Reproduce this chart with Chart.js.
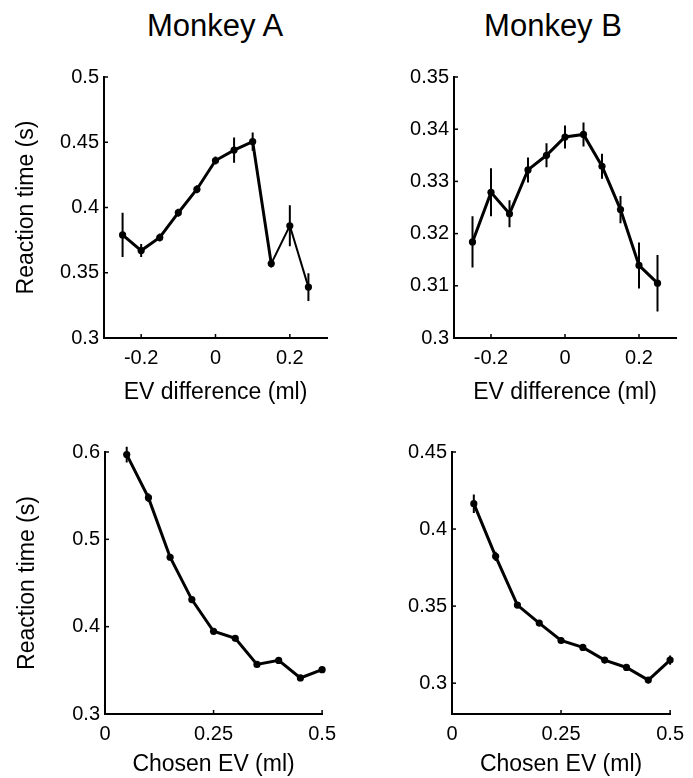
<!DOCTYPE html>
<html>
<head>
<meta charset="utf-8">
<script src="https://cdn.jsdelivr.net/npm/chart.js@4.4.1/dist/chart.umd.min.js"></script>
<style>
  body { margin: 0; background: #fff; width: 693px; height: 778px; position: relative; overflow: hidden;
         font-family: "Liberation Sans", Arial, Helvetica, sans-serif; }
  .title { position: absolute; top: 8px; font-size: 31px; line-height: 36px; color: #000;
           transform: translateX(-50%); white-space: nowrap; }
  canvas { position: absolute; }
</style>
</head>
<body>
<div class="title" style="left:215px;">Monkey A</div>
<div class="title" style="left:553px;">Monkey B</div>
<canvas id="tl"></canvas>
<canvas id="tr"></canvas>
<canvas id="bl"></canvas>
<canvas id="br"></canvas>
<script>
// ── Data ──────────────────────────────────────────────────
const EV_DIFF   = [-0.25, -0.2, -0.15, -0.1, -0.05, 0, 0.05, 0.1, 0.15, 0.2, 0.25];
const CHOSEN_EV = [0.05, 0.1, 0.15, 0.2, 0.25, 0.3, 0.35, 0.4, 0.45, 0.5];

const rtDiffA  = [0.379, 0.367, 0.377, 0.396, 0.414, 0.436, 0.444, 0.4505, 0.357, 0.386, 0.339];
const semDiffA = [0.017, 0.005, 0.003, 0.003, 0.003, 0.003, 0.0097, 0.007, 0.003, 0.0157, 0.0106];
const rtDiffB  = [0.3184, 0.3279, 0.3238, 0.3322, 0.3350, 0.3385, 0.3390, 0.3329, 0.3246, 0.3139, 0.3105];
const semDiffB = [0.0049, 0.0046, 0.0026, 0.0024, 0.0023, 0.0022, 0.0023, 0.0024, 0.0026, 0.0044, 0.0054];

const rtChosenA  = [0.597, 0.5477, 0.4795, 0.431, 0.3947, 0.3867, 0.3568, 0.3614, 0.3413, 0.3508];
const semChosenA = [0.009, 0.005, 0.003, 0.003, 0.003, 0.003, 0.003, 0.003, 0.003, 0.003];
const rtChosenB  = [0.4165, 0.3823, 0.3507, 0.339, 0.3277, 0.3232, 0.315, 0.3102, 0.302, 0.315];
const semChosenB = [0.006, 0.003, 0.002, 0.002, 0.002, 0.002, 0.002, 0.002, 0.002, 0.003];

// ── Tick values ───────────────────────────────────────────
const X_TICKS_DIFF   = [-0.2, 0, 0.2];
const X_TICKS_CHOSEN = [0, 0.25, 0.5];
const Y_TICKS_DIFF_A   = [0.3, 0.35, 0.4, 0.45, 0.5];
const Y_TICKS_DIFF_B   = [0.3, 0.31, 0.32, 0.33, 0.34, 0.35];
const Y_TICKS_CHOSEN_A = [0.3, 0.4, 0.5, 0.6];
const Y_TICKS_CHOSEN_B = [0.3, 0.35, 0.4, 0.45];

// ── Defaults ──────────────────────────────────────────────
Chart.defaults.font.family = '"Liberation Sans", Arial, Helvetica, sans-serif';
Chart.defaults.color = '#000';

const fmt = v => String(+v.toFixed(3));

// small ticks pointing into the plot, MATLAB style
const innerTicks = {
  id: 'innerTicks',
  afterDraw(chart) {
    const { ctx, chartArea: a, scales: { x, y } } = chart;
    ctx.save();
    ctx.strokeStyle = '#000';
    ctx.lineWidth = 1.5;
    x.ticks.forEach(t => {
      const px = x.getPixelForValue(t.value);
      ctx.beginPath(); ctx.moveTo(px, a.bottom); ctx.lineTo(px, a.bottom - 4); ctx.stroke();
    });
    y.ticks.forEach(t => {
      const py = y.getPixelForValue(t.value);
      ctx.beginPath(); ctx.moveTo(a.left, py); ctx.lineTo(a.left + 4, py); ctx.stroke();
    });
    ctx.restore();
  }
};

function errorBars(xs, ys, es) {
  const out = [];
  xs.forEach((x, i) => {
    out.push({ x, y: ys[i] - es[i] }, { x, y: ys[i] + es[i] }, { x, y: null });
  });
  return out;
}

function makePanel(id, box, opts) {
  const cv = document.getElementById(id);
  const L = 100, T = 15, R = 15, B = opts.bottom;
  cv.width  = box.w + L + R;
  cv.height = box.h + T + B;
  cv.style.left = (box.x - L) + 'px';
  cv.style.top  = (box.y - T) + 'px';

  new Chart(cv, {
    type: 'scatter',
    data: {
      datasets: [
        {
          data: errorBars(opts.xs, opts.ys, opts.es),
          showLine: true,
          spanGaps: false,
          borderColor: '#000',
          borderWidth: 2,
          pointRadius: 0,
          clip: false,
        },
        {
          data: opts.xs.map((x, i) => ({ x, y: opts.ys[i] })),
          showLine: true,
          borderColor: '#000',
          backgroundColor: '#000',
          borderWidth: 3,
          segment: opts.segment,
          pointRadius: 3.6,
          pointBackgroundColor: '#000',
          pointBorderWidth: 0,
          clip: false,
        },
      ],
    },
    options: {
      responsive: false,
      animation: false,
      events: [],
      layout: { padding: { left: 0, top: T, right: R, bottom: 0 } },
      plugins: { legend: { display: false }, tooltip: { enabled: false } },
      scales: {
        x: {
          type: 'linear',
          min: opts.xMin, max: opts.xMax,
          afterBuildTicks: s => { s.ticks = opts.xTicks.map(v => ({ value: v })); },
          afterFit: s => { s.height = B; },
          grid: { display: false, drawTicks: false },
          border: { display: true, color: '#000', width: 2 },
          ticks: { font: { size: 20 }, padding: 8, maxRotation: 0, callback: v => fmt(v) },
          title: { display: true, text: opts.xTitle, font: { size: 23 },
                   padding: { top: 0, bottom: opts.xTitlePad } },
        },
        y: {
          type: 'linear',
          min: opts.yMin, max: opts.yMax,
          afterBuildTicks: s => { s.ticks = opts.yTicks.map(v => ({ value: v })); },
          afterFit: s => { s.width = L; },
          grid: { display: false, drawTicks: false },
          border: { display: true, color: '#000', width: 2 },
          ticks: { font: { size: 20 }, padding: 5, callback: v => fmt(v) },
          title: { display: !!opts.yTitle, text: opts.yTitle || '', font: { size: 23 },
                   padding: { top: 9, bottom: 0 } },
        },
      },
    },
    plugins: [innerTicks],
  });
}

// ── Panels ────────────────────────────────────────────────
makePanel('tl', { x: 104, y: 75, w: 223, h: 263 }, {
  xs: EV_DIFF, ys: rtDiffA, es: semDiffA,
  xMin: -0.3, xMax: 0.3, yMin: 0.3, yMax: 0.5,
  xTicks: X_TICKS_DIFF, yTicks: Y_TICKS_DIFF_A,
  xTitle: 'EV difference (ml)', yTitle: 'Reaction time (s)',
  bottom: 75, xTitlePad: 7,
  segment: { borderWidth: ctx => ctx.p0DataIndex >= 8 ? 2 : 3 },
});

makePanel('tr', { x: 454, y: 75, w: 222, h: 263 }, {
  xs: EV_DIFF, ys: rtDiffB, es: semDiffB,
  xMin: -0.3, xMax: 0.3, yMin: 0.3, yMax: 0.35,
  xTicks: X_TICKS_DIFF, yTicks: Y_TICKS_DIFF_B,
  xTitle: 'EV difference (ml)', yTitle: null,
  bottom: 75, xTitlePad: 7,
});

makePanel('bl', { x: 105, y: 450, w: 224, h: 264 }, {
  xs: CHOSEN_EV, ys: rtChosenA, es: semChosenA,
  xMin: 0, xMax: 0.5, yMin: 0.3, yMax: 0.6,
  xTicks: X_TICKS_CHOSEN, yTicks: Y_TICKS_CHOSEN_A,
  xTitle: 'Chosen EV (ml)', yTitle: 'Reaction time (s)',
  bottom: 64, xTitlePad: 0,
});

makePanel('br', { x: 452, y: 450, w: 225, h: 264 }, {
  xs: CHOSEN_EV, ys: rtChosenB, es: semChosenB,
  xMin: 0, xMax: 0.5, yMin: 0.28, yMax: 0.45,
  xTicks: X_TICKS_CHOSEN, yTicks: Y_TICKS_CHOSEN_B,
  xTitle: 'Chosen EV (ml)', yTitle: null,
  bottom: 64, xTitlePad: 0,
});
</script>
</body>
</html>
